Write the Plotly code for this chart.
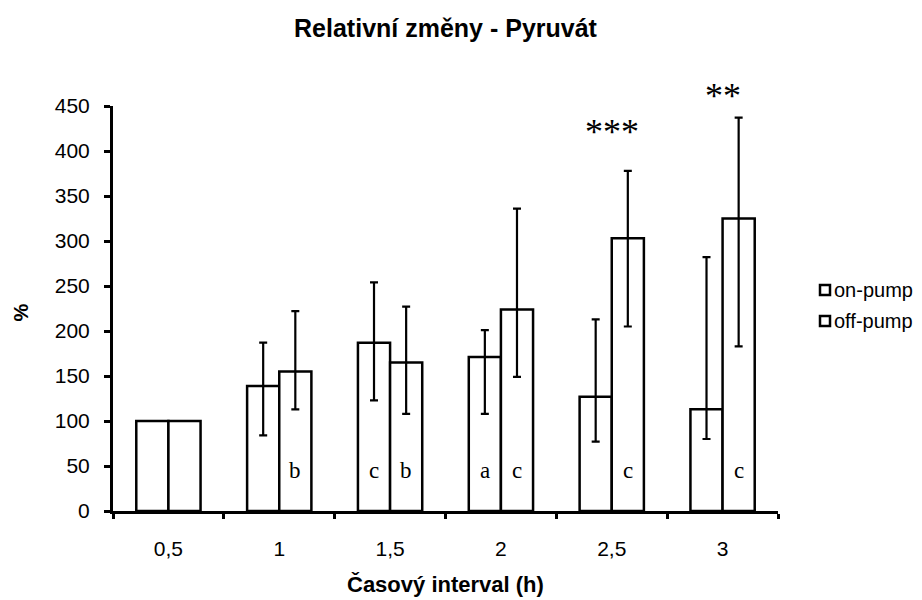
import plotly.graph_objects as go

# Time intervals (h)
categories = ["0,5", "1", "1,5", "2", "2,5", "3"]

# Relative change of pyruvate (%), mean with asymmetric error range
on_pump = [100, 139, 187, 171, 127, 113]
on_pump_upper = [100, 187, 254, 201, 213, 282]
on_pump_lower = [100, 84, 123, 108, 77, 80]

off_pump = [100, 155, 165, 224, 303, 325]
off_pump_upper = [100, 222, 227, 336, 378, 437]
off_pump_lower = [100, 113, 108, 149, 205, 183]

# Letters written inside the bars and significance stars above the groups
on_pump_letters = ["", "", "c", "a", "", ""]
off_pump_letters = ["", "b", "b", "c", "c", "c"]
significance = ["", "", "", "", "***", "**"]
significance_level = [None, None, None, None, 397, 437]

series_names = ["on-pump", "off-pump"]

SANS = "Arial, Liberation Sans, sans-serif"
SERIF = "Times New Roman, Liberation Serif, serif"

BAR_W = 0.29  # width of one bar in category units


def error_arrays(values, upper, lower):
    plus = [u - v for u, v in zip(upper, values)]
    minus = [v - l for v, l in zip(values, lower)]
    return plus, minus


fig = go.Figure()
for name, vals, up, lo in [
    (series_names[0], on_pump, on_pump_upper, on_pump_lower),
    (series_names[1], off_pump, off_pump_upper, off_pump_lower),
]:
    plus, minus = error_arrays(vals, up, lo)
    fig.add_trace(go.Bar(
        name=name,
        x=categories,
        y=vals,
        marker=dict(color="white", line=dict(color="black", width=2.5)),
        error_y=dict(type="data", symmetric=False, array=plus, arrayminus=minus,
                     color="black", thickness=2.2, width=4),
        showlegend=False,
    ))

annotations = []
# letters inside bars
for i, (a, b) in enumerate(zip(on_pump_letters, off_pump_letters)):
    for letter, off in ((a, -BAR_W / 2), (b, BAR_W / 2)):
        if letter:
            annotations.append(dict(
                x=i + off, y=45, xref="x", yref="y", text=letter, showarrow=False,
                font=dict(family=SERIF, size=23, color="black"),
            ))
# significance stars
for i, (s, level) in enumerate(zip(significance, significance_level)):
    if s:
        annotations.append(dict(
            x=i, y=level, xref="x", yref="y", text=s, showarrow=False,
            yanchor="bottom",
            font=dict(family=SERIF, size=36, color="black"),
        ))

# axis titles
annotations.append(dict(
    x=0.5, y=0, xref="paper", yref="paper", text="<b>Časový interval (h)</b>",
    showarrow=False, yanchor="middle", yshift=-73,
    font=dict(family=SANS, size=22, color="black"),
))
annotations.append(dict(
    x=0, y=0.5, xref="paper", yref="paper", text="<b>%</b>", textangle=-90,
    showarrow=False, xanchor="center", xshift=-93, yshift=-4,
    font=dict(family=SANS, size=20, color="black"),
))

# legend entries
shapes = []
legend_rows = [290, 321]
for name, ypix in zip(series_names, legend_rows):
    yc = (511 - ypix) / 405
    h = 5 / 405
    x0 = (820 - 113) / 665
    x1 = (830 - 113) / 665
    shapes.append(dict(type="rect", xref="paper", yref="paper",
                       x0=x0, x1=x1, y0=yc - h, y1=yc + h,
                       line=dict(color="black", width=2.5), fillcolor="white"))
    annotations.append(dict(
        x=(832 - 113) / 665, y=yc, xref="paper", yref="paper", text=name,
        showarrow=False, xanchor="left", yanchor="middle",
        font=dict(family=SANS, size=20, color="black"),
    ))

fig.update_layout(
    width=922, height=600,
    margin=dict(l=113, r=144, t=106, b=89),
    paper_bgcolor="white", plot_bgcolor="white",
    barmode="group", bargap=0.42, bargroupgap=0,
    title=dict(text="<b>Relativní změny - Pyruvát</b>", x=0.5, xref="paper",
               y=1 - 28 / 600, yanchor="middle",
               font=dict(family=SANS, size=25, color="black")),
    xaxis=dict(type="category", range=[-0.5, 5.5], showgrid=False,
               showline=True, linecolor="black", linewidth=3,
               ticks="outside", tickson="boundaries", ticklen=5, tickwidth=3,
               tickcolor="black", ticklabelstandoff=17,
               tickfont=dict(family=SANS, size=21, color="black")),
    yaxis=dict(range=[0, 450], dtick=50, showgrid=False, zeroline=False,
               showline=True, linecolor="black", linewidth=3,
               ticks="outside", ticklen=6, tickwidth=3, tickcolor="black",
               ticklabelstandoff=10,
               tickfont=dict(family=SANS, size=21, color="black")),
    annotations=annotations,
    shapes=shapes,
)

fig.write_html("out.html")
